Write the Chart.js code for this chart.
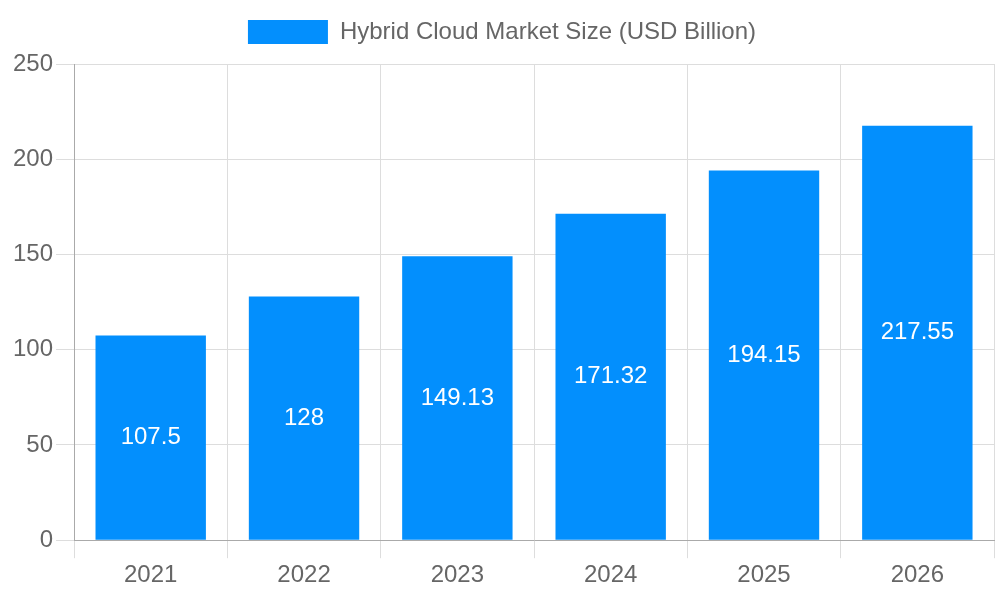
<!DOCTYPE html>
<html>
<head>
<meta charset="utf-8">
<script src="https://cdn.jsdelivr.net/npm/chart.js@4"></script>
<style>
  body { margin: 0; background: #fff; }
  #wrap { width: 1000px; height: 600px; }
</style>
</head>
<body>
<div id="wrap"><canvas id="barChart"></canvas></div>
<script>
var years = ['2021', '2022', '2023', '2024', '2025', '2026'];
var marketSize = [107.5, 128, 149.13, 171.32, 194.15, 217.55];
var seriesName = 'Hybrid Cloud Market Size (USD Billion)';

// writes the value in the middle of each bar
var barLabels = {
  id: 'barLabels',
  afterDatasetsDraw: function (chart) {
    var ctx = chart.ctx;
    var meta = chart.getDatasetMeta(0);
    ctx.save();
    ctx.fillStyle = '#ffffff';
    ctx.font = '24px "Liberation Sans", Arial, sans-serif';
    ctx.textAlign = 'center';
    ctx.textBaseline = 'middle';
    meta.data.forEach(function (bar, i) {
      ctx.fillText(String(marketSize[i]), bar.x, (bar.y + bar.base) / 2);
    });
    ctx.restore();
  }
};

// a bit more room under the legend
var legendGap = {
  id: 'legendGap',
  beforeInit: function (chart) {
    var fit = chart.legend.fit;
    chart.legend.fit = function () {
      fit.bind(chart.legend)();
      this.height += 10;
    };
  }
};

Chart.defaults.font.family = '"Liberation Sans", Arial, sans-serif';
Chart.defaults.font.size = 24;
Chart.defaults.color = '#666';

var chart = document.getElementById('barChart');

new Chart(chart, {
  type: 'bar',
  data: {
    labels: years,
    datasets: [{
      label: seriesName,
      data: marketSize,
      backgroundColor: '#038ffd',
      borderWidth: 0
    }]
  },
  options: {
    responsive: true,
    maintainAspectRatio: false,
    animation: false,
    layout: { padding: { top: 8, left: 10, right: 6, bottom: 7 } },
    plugins: {
      legend: {
        labels: { boxWidth: 80, boxHeight: 24, padding: 12 }
      },
      tooltip: { enabled: false }
    },
    scales: {
      x: {
        grid: { color: '#dddddd', tickLength: 18 },
        border: { color: '#aaaaaa' }
      },
      y: {
        min: 0,
        max: 250,
        ticks: { stepSize: 50 },
        grid: { color: '#dddddd', tickLength: 18 },
        border: { color: '#aaaaaa' }
      }
    }
  },
  plugins: [barLabels, legendGap]
});
</script>
</body>
</html>
